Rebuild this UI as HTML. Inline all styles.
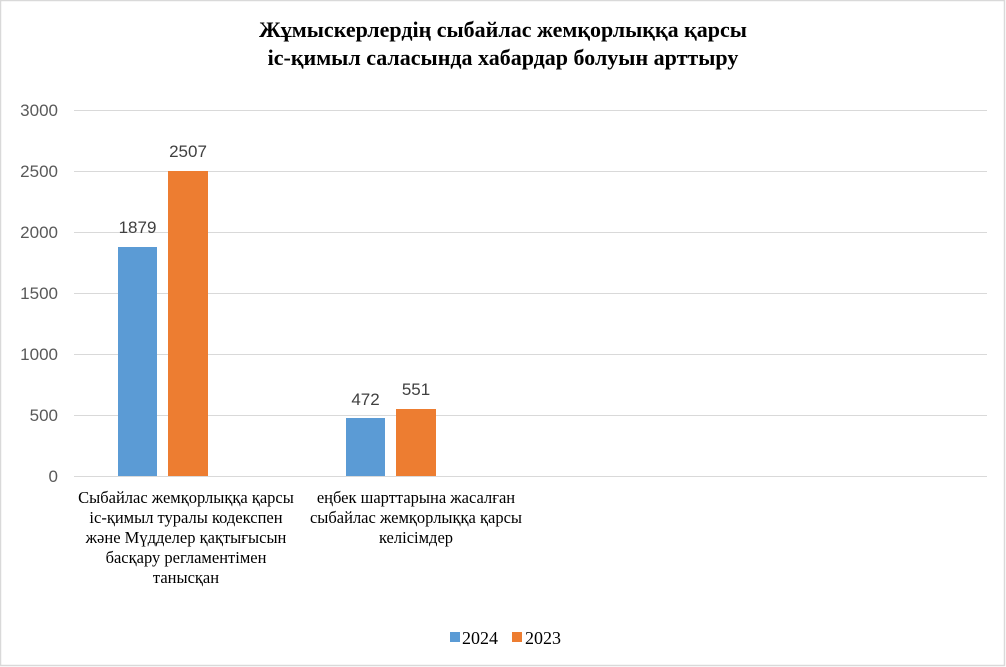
<!DOCTYPE html>
<html><head><meta charset="utf-8"><style>
body{margin:0;width:1006px;height:667px;background:#fff;overflow:hidden}
svg{display:block}
</style></head><body>
<svg width="1006" height="667" xmlns="http://www.w3.org/2000/svg">
<rect x="0.5" y="0.5" width="1004" height="665" fill="#fff" stroke="#d9d9d9" stroke-width="1.5"/>
<g font-family="Liberation Serif, serif" font-weight="bold" font-size="22" text-anchor="middle" fill="#000">
<text x="503" y="37">Жұмыскерлердің сыбайлас жемқорлыққа қарсы</text>
<text x="503" y="65">іс-қимыл саласында хабардар болуын арттыру</text>
</g>
<g stroke="#d9d9d9" stroke-width="1">
<line x1="74" x2="987" y1="110.5" y2="110.5"/>
<line x1="74" x2="987" y1="171.5" y2="171.5"/>
<line x1="74" x2="987" y1="232.5" y2="232.5"/>
<line x1="74" x2="987" y1="293.5" y2="293.5"/>
<line x1="74" x2="987" y1="354.5" y2="354.5"/>
<line x1="74" x2="987" y1="415.5" y2="415.5"/>
<line x1="74" x2="987" y1="476.5" y2="476.5"/>
</g>
<g font-family="Liberation Sans, sans-serif" font-size="17" fill="#595959" text-anchor="end">
<text x="58" y="116">3000</text>
<text x="58" y="177">2500</text>
<text x="58" y="238">2000</text>
<text x="58" y="299">1500</text>
<text x="58" y="360">1000</text>
<text x="58" y="421">500</text>
<text x="58" y="482">0</text>
</g>
<rect x="118" y="247" width="39" height="229" fill="#5b9bd5"/>
<rect x="168" y="171" width="40" height="305" fill="#ed7d31"/>
<rect x="346" y="418" width="39" height="58" fill="#5b9bd5"/>
<rect x="396" y="409" width="40" height="67" fill="#ed7d31"/>
<g font-family="Liberation Sans, sans-serif" font-size="17" fill="#404040" text-anchor="middle">
<text x="137.5" y="233">1879</text>
<text x="188" y="157">2507</text>
<text x="365.5" y="405">472</text>
<text x="416" y="395">551</text>
</g>
<g font-family="Liberation Serif, serif" font-size="16.5" fill="#000" text-anchor="middle">
<text x="186" y="503">Сыбайлас жемқорлыққа қарсы</text>
<text x="186" y="523">іс-қимыл туралы  кодекспен</text>
<text x="186" y="543">және Мүдделер қақтығысын</text>
<text x="186" y="563">басқару регламентімен</text>
<text x="186" y="583">танысқан</text>
<text x="416" y="503">еңбек шарттарына  жасалған</text>
<text x="416" y="523">сыбайлас жемқорлыққа қарсы</text>
<text x="416" y="543">келісімдер</text>
</g>
<rect x="450" y="632" width="10" height="10" fill="#5b9bd5"/>
<rect x="512" y="632" width="10" height="10" fill="#ed7d31"/>
<g font-family="Liberation Serif, serif" font-size="18" fill="#000">
<text x="462" y="644">2024</text>
<text x="525" y="644">2023</text>
</g>
</svg>
</body></html>
